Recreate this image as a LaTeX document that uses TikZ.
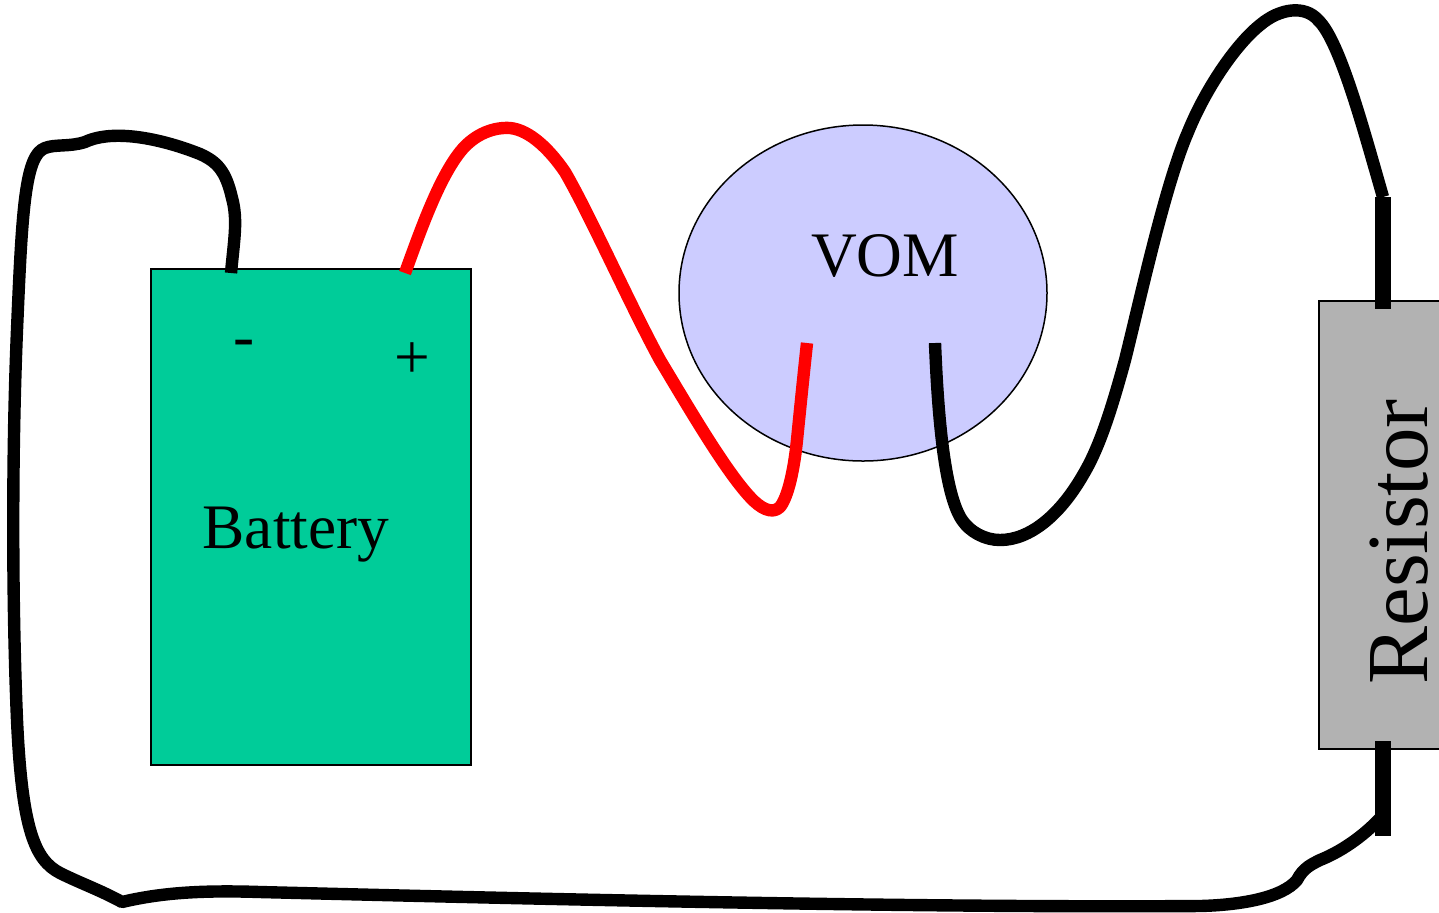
\documentclass[tikz,border=0pt]{standalone}
\usepackage{fontspec}
\setmainfont{Liberation Serif}
\usepackage{tikz}
\usetikzlibrary{calc}
\definecolor{vomblue}{HTML}{CCCCFF}
\definecolor{batgreen}{HTML}{00CC99}
\definecolor{resgray}{HTML}{B2B2B2}
\tikzset{wire/.style={line width=6.2pt, line join=round}}
\tikzset{lead/.style={line width=8pt}}
\tikzset{outline/.style={draw=black, line width=0.75pt}}
\tikzset{label/.style={font=\fontsize{31.7}{36}\selectfont, inner sep=0pt}}

\begin{document}
\begin{tikzpicture}[x=0.5pt, y=-0.5pt]
    \useasboundingbox (0,0) rectangle (1439,912);

    \coordinate (batA) at (151,269);
    \coordinate (batB) at (471,765);
    \coordinate (resA) at (1319,301);
    \coordinate (resB) at (1445,749);
    \coordinate (minus) at (231,273);
    \coordinate (plus) at (405,273);
    \coordinate (redtip) at (807,343);
    \coordinate (blacktip) at (935,343);
    \coordinate (leadA1) at (1383,197);
    \coordinate (leadA2) at (1383,309);
    \coordinate (leadB1) at (1383,741);
    \coordinate (leadB2) at (1383,836);
    \coordinate (kink) at (122,902);

    \draw[outline, fill=batgreen] (batA) rectangle (batB);
    \draw[outline, fill=resgray] (resA) rectangle (resB);
    \draw[outline, fill=vomblue] (863,293) ellipse (184 and 168);

    % Wires
    \draw[wire] (minus) .. controls (234,240) and (238,220) .. (232,198)
        .. controls (226,172) and (218,162) .. (200,154)
        .. controls (165,140) and (115,128) .. (85,142)
        .. controls (70,147) and (55,144) .. (45,148)
        .. controls (25,155) and (22,210) .. (17,330)
        .. controls (12,450) and (12,600) .. (17,720)
        .. controls (22,830) and (35,860) .. (60,873)
        .. controls (80,883) and (100,890) .. (kink)
        .. controls (160,893) and (200,890) .. (260,892)
        .. controls (500,898) and (900,908) .. (1200,906)
        .. controls (1240,905) and (1282,898) .. (1297,880)
        .. controls (1303,868) and (1312,864) .. (1320,860)
        .. controls (1345,850) and (1368,832) .. (1383,815);
    \draw[wire] (leadA1) .. controls (1365,135) and (1340,40) .. (1318,20)
        .. controls (1305,5) and (1280,8) .. (1260,25)
        .. controls (1235,45) and (1205,90) .. (1188,132)
        .. controls (1165,185) and (1140,300) .. (1125,360)
        .. controls (1110,415) and (1098,450) .. (1083,475)
        .. controls (1060,515) and (1030,540) .. (1000,540)
        .. controls (985,540) and (970,532) .. (962,520)
        .. controls (945,495) and (938,420) .. (blacktip);
    \draw[wire, red] (plus) .. controls (420,232) and (438,180) .. (460,152)
        .. controls (475,133) and (495,127) .. (510,128)
        .. controls (530,130) and (550,150) .. (565,172)
        .. controls (590,215) and (630,305) .. (660,360)
        .. controls (690,410) and (725,470) .. (750,497)
        .. controls (760,508) and (772,515) .. (780,507)
        .. controls (788,497) and (794,470) .. (797,440)
        .. controls (800,410) and (803,380) .. (redtip);

    \draw[lead] (leadA1) -- (leadA2);
    \draw[lead] (leadB1) -- (leadB2);

    % Labels
    \node[label, anchor=base] (batlabel) at (296,548) {Battery};
    \node[label, anchor=base] (vomlabel) at (885,276) {VOM};
    \node[label] (pluslabel) at (412,361) {+};
    \node[label] (minuslabel) at (244,349) {-};
    \node[label, font=\fontsize{43.5}{50}\selectfont, rotate=90, anchor=base] (reslabel) at (1427,542) {Resistor};
\end{tikzpicture}
\end{document}
